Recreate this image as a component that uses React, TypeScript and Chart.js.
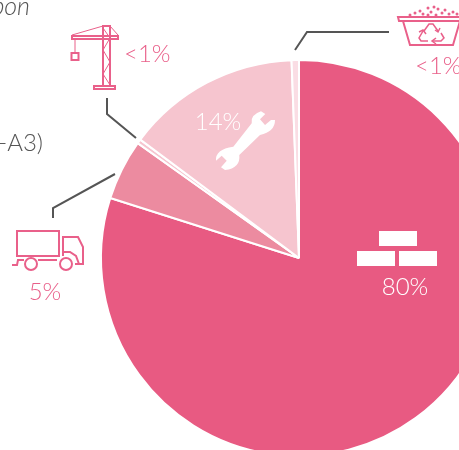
import React, { useEffect, useRef } from "react";
import { Chart, registerables } from "chart.js";

Chart.register(...registerables);

const categories = ["Materials", "Transport", "Construction", "Maintenance", "Waste"];
const shares = [79.9, 4.95, 0.35, 14.2, 0.6];
const sliceColours = ["#E85A82", "#EC8BA0", "#F6C5CF", "#F6C5CF", "#FADDE4"];
const PINK = "#E9608A";
const GREY = "#555555";
const FONT = '300 24px Lato, "Open Sans", sans-serif';

function poly(c: CanvasRenderingContext2D, pts: number[][], close = false) {
  c.beginPath();
  pts.forEach((p, i) => (i ? c.lineTo(p[0], p[1]) : c.moveTo(p[0], p[1])));
  if (close) c.closePath();
  c.stroke();
}

function spanner(c: CanvasRenderingContext2D) {
  c.fillStyle = "#FFFFFF";
  c.beginPath();
  c.moveTo(251.7, 123.3);
  c.quadraticCurveTo(250, 115, 261, 111.3);
  c.lineTo(265.3, 114);
  c.lineTo(260, 119.3);
  c.lineTo(265, 125);
  c.lineTo(271, 120);
  c.lineTo(275, 120);
  c.quadraticCurveTo(275, 131.7, 260, 135);
  c.lineTo(239.3, 155);
  c.quadraticCurveTo(240.7, 168.3, 225, 170);
  c.lineTo(221, 167.3);
  c.lineTo(226.7, 160.7);
  c.lineTo(221.7, 155.7);
  c.lineTo(216, 160.7);
  c.quadraticCurveTo(215, 149.3, 233.3, 146.7);
  c.closePath();
  c.fill();
}

const decorations = {
  id: "decorations",
  afterDraw(chart: any) {
    const c: CanvasRenderingContext2D = chart.ctx;
    c.save();
    c.lineJoin = "miter";
    // leaders
    c.strokeStyle = GREY;
    c.lineWidth = 2;
    poly(c, [[107, 98], [107, 114], [136, 138]]);
    poly(c, [[389, 32], [307, 32], [295, 50]]);
    poly(c, [[53, 218], [53, 208], [115, 174]]);

    // crane
    c.strokeStyle = PINK;
    c.lineWidth = 2;
    c.strokeRect(103, 26, 7, 60);
    c.strokeRect(94, 86, 21, 3);
    c.strokeRect(72, 36, 46, 3);
    c.lineWidth = 1;
    poly(c, [[72, 35], [103, 26]]);
    poly(c, [[110, 26], [118, 35]]);
    poly(c, [[75, 40], [75, 52]]);
    poly(c, [[103, 28], [110, 38], [103, 50], [110, 62], [103, 74], [110, 85]]);
    c.lineWidth = 2;
    c.strokeRect(71.5, 53, 7, 7);

    // skip with recycling arrows
    c.lineWidth = 2;
    poly(c, [[398, 17], [465, 17], [464, 21], [399, 21]], true);
    poly(c, [[403, 21], [410, 45], [453, 45], [460, 21]]);
    c.lineWidth = 1.5;
    poly(c, [[424, 31], [429, 24], [433, 24], [438, 31]]);
    poly(c, [[435, 30], [438, 32], [440, 28]]);
    poly(c, [[441, 33], [444, 38], [441, 41], [433, 41]]);
    poly(c, [[436, 38], [432, 41], [436, 44]]);
    poly(c, [[428, 41], [421, 41], [419, 38], [423, 31]]);
    poly(c, [[419, 32], [423, 30], [426, 34]]);
    c.fillStyle = PINK;
    const dots = [[410, 15], [415, 13], [420, 11], [423, 14], [428, 8], [431, 12], [434, 7], [438, 9], [442, 13], [445, 10], [449, 14], [453, 12], [457, 14], [428, 15], [436, 15]];
    dots.forEach(([x, y]) => {
      c.beginPath();
      c.arc(x, y, 1.5, 0, Math.PI * 2);
      c.fill();
    });

    // lorry
    c.lineWidth = 2;
    c.strokeStyle = PINK;
    c.strokeRect(17, 231, 42, 25);
    poly(c, [[63, 256], [63, 237], [78, 237], [83, 247], [83, 264], [75, 264]]);
    poly(c, [[63, 252], [70, 252], [76, 256], [79, 264]]);
    poly(c, [[12, 265], [17, 265], [18, 260], [24, 260]]);
    poly(c, [[38, 260], [57, 260]]);
    [31, 66].forEach((x) => {
      c.beginPath();
      c.arc(x, 264, 6, 0, Math.PI * 2);
      c.stroke();
    });

    // bricks
    c.fillStyle = "#FFFFFF";
    c.fillRect(379, 231, 38, 15);
    c.fillRect(357, 251, 38, 15);
    c.fillRect(399, 251, 38, 15);

    spanner(c);

    // texts
    c.font = FONT;
    c.textBaseline = "alphabetic";
    c.fillStyle = "#FFFFFF";
    c.textAlign = "center";
    c.fillText("80%", 405, 295);
    c.fillText("14%", 218, 130);
    c.fillStyle = PINK;
    c.fillText("5%", 45, 300);
    c.textAlign = "left";
    c.fillText("<1%", 124, 62);
    c.fillText("<1%", 415, 74);
    c.fillStyle = GREY;
    c.textAlign = "right";
    c.fillText("(A1-A3)", 43, 151);
    c.font = 'italic 300 25px Lato, "Open Sans", sans-serif';
    c.fillText("Carbon", 30, 15);
    c.restore();
  },
};

export default function App() {
  const ref = useRef<HTMLCanvasElement>(null);
  useEffect(() => {
    const chart = new Chart(ref.current!, {
      type: "pie",
      data: {
        labels: categories,
        datasets: [
          {
            data: shares,
            backgroundColor: sliceColours,
            borderColor: "#FFFFFF",
            borderWidth: 2,
          },
        ],
      },
      options: {
        responsive: false,
        animation: false,
        events: [],
        layout: { padding: 59 },
        plugins: { legend: { display: false }, tooltip: { enabled: false } },
      },
      plugins: [decorations],
    });
    return () => chart.destroy();
  }, []);
  return (
    <div style={{ position: "fixed", left: 0, top: 0, width: 459, height: 450, overflow: "hidden", background: "#fff" }}>
      <canvas ref={ref} width={598} height={516} style={{ position: "absolute", left: 0, top: 0 }} />
    </div>
  );
}
